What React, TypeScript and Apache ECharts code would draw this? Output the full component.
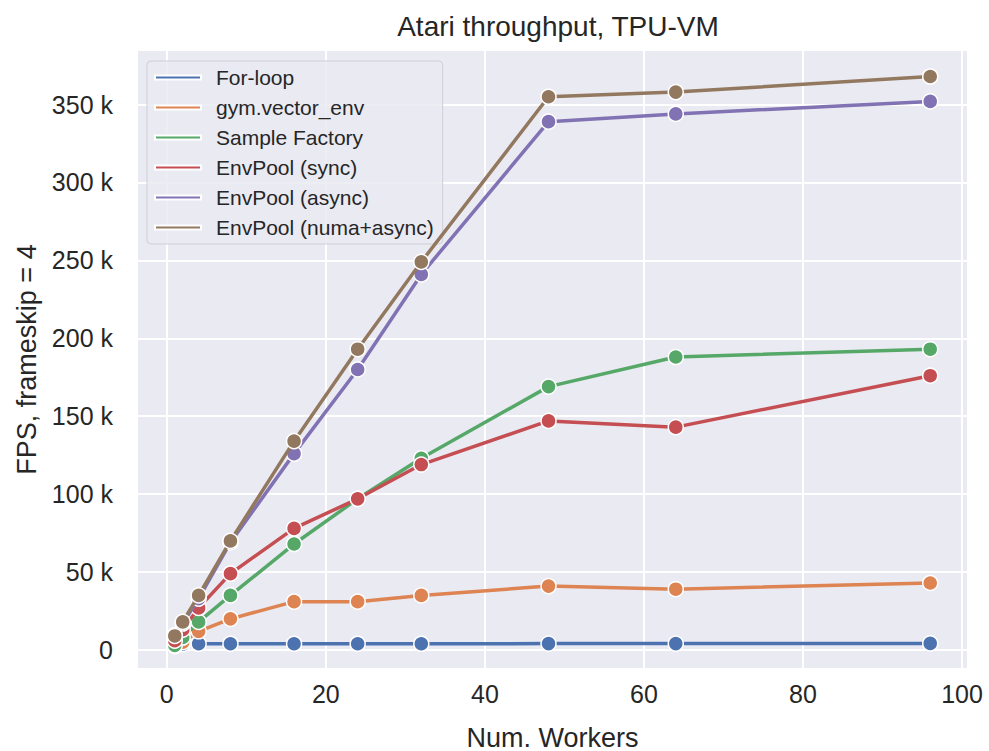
import React, { useEffect, useRef } from "react";
import * as echarts from "echarts";

const workers = [1, 2, 4, 8, 16, 24, 32, 48, 64, 96];
const forLoop = [3500, 3800, 4000, 4000, 4000, 4000, 4000, 4100, 4100, 4200];
const gymVectorEnv = [2500, 5000, 12000, 20000, 31000, 31000, 35000, 41000, 39000, 43000];
const sampleFactory = [3000, 8000, 18000, 35000, 68000, 97000, 123000, 169000, 188000, 193000];
const envPoolSync = [6000, 13000, 27000, 49000, 78000, 97000, 119000, 147000, 143000, 176000];
const envPoolAsync = [9500, 17000, 33000, 69000, 126000, 180000, 241000, 339000, 344000, 352000];
const envPoolNumaAsync = [9000, 18000, 35000, 70000, 134000, 193000, 249000, 355000, 358000, 368000];

const seriesNames = [
  "For-loop",
  "gym.vector_env",
  "Sample Factory",
  "EnvPool (sync)",
  "EnvPool (async)",
  "EnvPool (numa+async)",
];
const seriesValues = [forLoop, gymVectorEnv, sampleFactory, envPoolSync, envPoolAsync, envPoolNumaAsync];
const colors = ["#4c72b0", "#dd8452", "#55a868", "#c44e52", "#8172b3", "#937860"];

const FONT = "Liberation Sans, Arial, sans-serif";
const TEXT = "#262626";

export default function App() {
  const ref = useRef<HTMLDivElement>(null);
  useEffect(() => {
    if (!ref.current) return;
    const chart = echarts.init(ref.current, undefined, { renderer: "svg" });
    chart.setOption({
      animation: false,
      backgroundColor: "#ffffff",
      title: {
        text: "Atari throughput, TPU-VM",
        left: 553,
        textAlign: "center",
        top: 7,
        textStyle: { fontFamily: FONT, fontSize: 28, fontWeight: "normal", color: TEXT },
      },
      legend: {
        orient: "vertical",
        left: 147,
        top: 61,
        icon: "rect",
        itemWidth: 46,
        itemHeight: 4,
        itemGap: 9,
        padding: [6, 9, 6, 7],
        backgroundColor: "rgba(234,234,242,0.85)",
        borderColor: "#cfcfd6",
        borderWidth: 1,
        borderRadius: 4,
        textStyle: { fontFamily: FONT, fontSize: 21, color: TEXT, padding: [0, 0, 0, 10] },
        data: seriesNames,
      },
      grid: {
        left: 137,
        top: 50,
        width: 831,
        height: 619,
        show: true,
        backgroundColor: "#eaeaf2",
        borderWidth: 0,
        containLabel: false,
        outerBoundsMode: "none",
      },
      xAxis: {
        type: "value",
        min: -3.75,
        max: 100.75,
        minInterval: 20,
        maxInterval: 20,
        name: "Num. Workers",
        nameLocation: "middle",
        nameGap: 55,
        nameTextStyle: { fontFamily: FONT, fontSize: 27, color: TEXT },
        axisLine: { show: false },
        axisTick: { show: false },
        axisLabel: {
          fontFamily: FONT,
          fontSize: 25,
          color: TEXT,
          margin: 12,
          showMinLabel: false,
          showMaxLabel: false,
        },
        splitLine: { show: true, lineStyle: { color: "#ffffff", width: 2 } },
      },
      yAxis: {
        type: "value",
        min: -12200,
        max: 385000,
        minInterval: 50000,
        maxInterval: 50000,
        name: "FPS, frameskip = 4",
        nameLocation: "middle",
        nameGap: 89,
        nameTextStyle: { fontFamily: FONT, fontSize: 27, color: TEXT },
        axisLine: { show: false },
        axisTick: { show: false },
        axisLabel: {
          fontFamily: FONT,
          fontSize: 25,
          color: TEXT,
          margin: 24,
          showMinLabel: false,
          showMaxLabel: false,
          formatter: (v: number) => (v === 0 ? "0" : `${v / 1000} k`),
        },
        splitLine: { show: true, lineStyle: { color: "#ffffff", width: 2 } },
      },
      series: seriesNames.map((name, i) => ({
        name,
        type: "line",
        data: workers.map((w, j) => [w, seriesValues[i][j]]),
        symbol: "circle",
        symbolSize: 15,
        showSymbol: true,
        color: colors[i],
        lineStyle: { width: 3.5, color: colors[i] },
        itemStyle: { color: colors[i], borderColor: "#ffffff", borderWidth: 1.5 },
        emphasis: { disabled: true },
        z: 2 + i,
      })),
    });
    return () => chart.dispose();
  }, []);
  return (
    <div
      ref={ref}
      style={{ position: "fixed", left: 0, top: 0, width: 989, height: 751 }}
    />
  );
}
